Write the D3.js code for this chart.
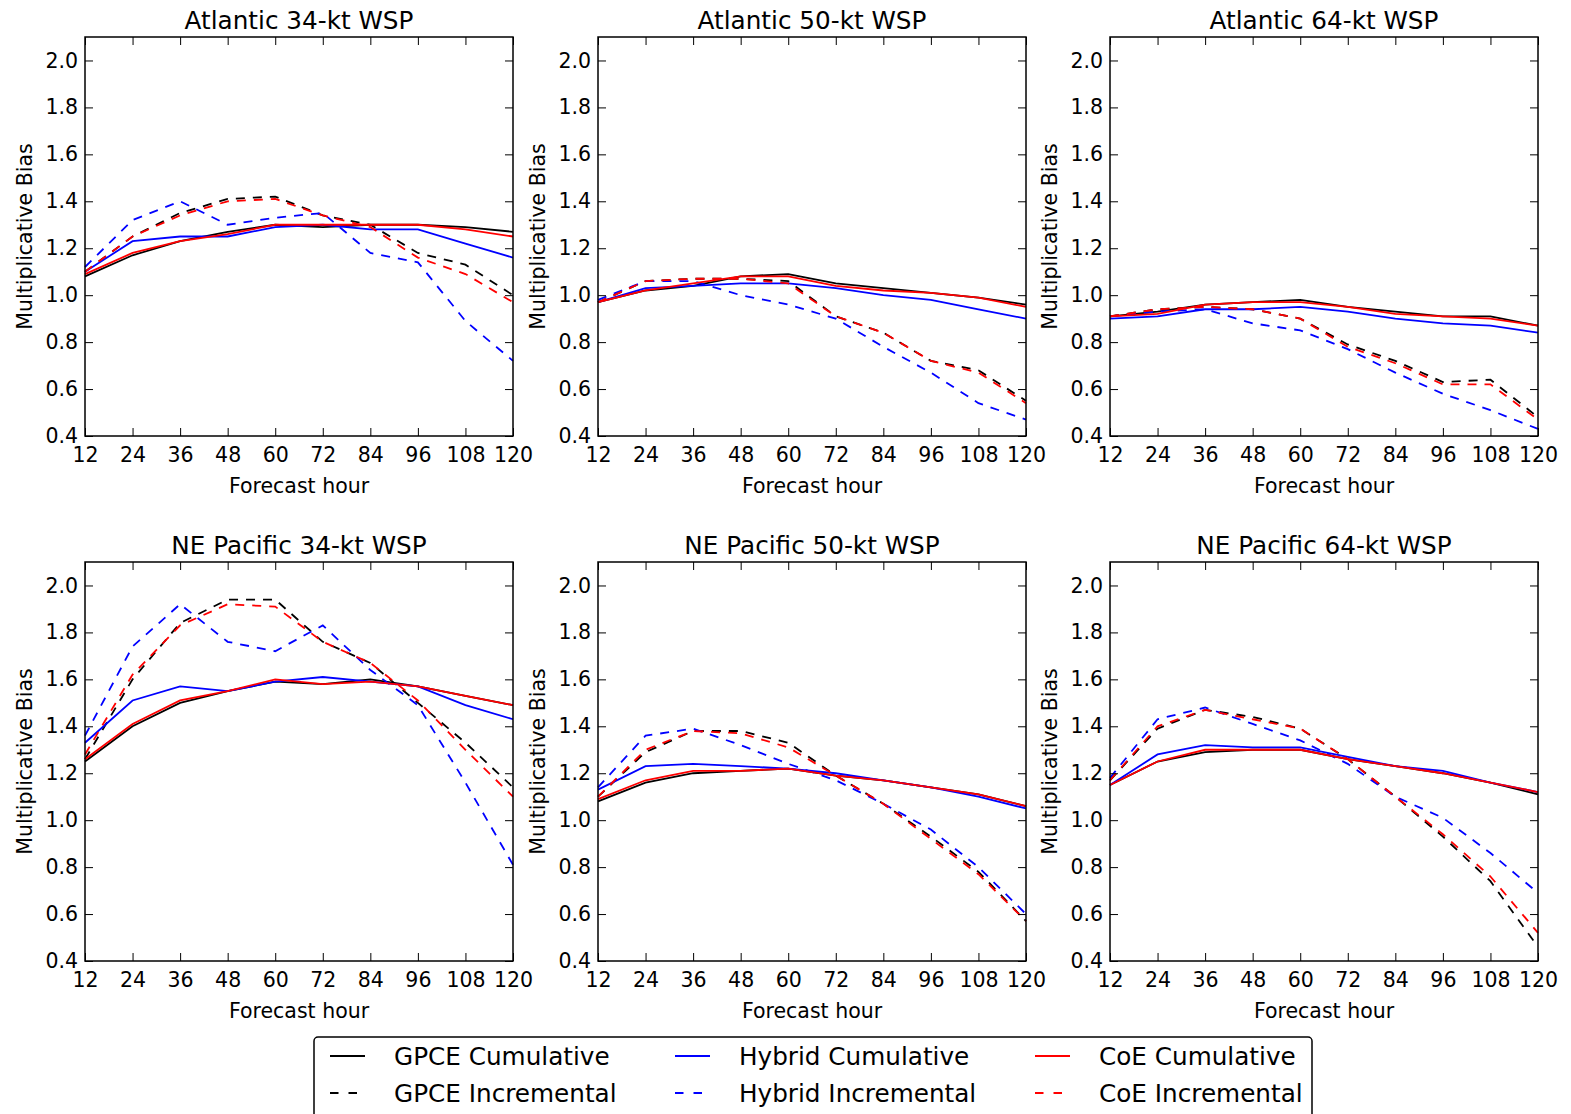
<!DOCTYPE html>
<html>
<head>
<meta charset="utf-8">
<script src="https://cdn.jsdelivr.net/npm/d3@7"></script>
<style>
  body { margin: 0; background: #fff; }
  svg text { font-family: "DejaVu Sans", sans-serif; fill: #000; }
</style>
</head>
<body>
<div id="chart"></div>
<script>
// *** data
var hours = [12, 24, 36, 48, 60, 72, 84, 96, 108, 120];
var yTicks = [0.4, 0.6, 0.8, 1.0, 1.2, 1.4, 1.6, 1.8, 2.0];
var seriesNames = ["GPCE Cumulative", "GPCE Incremental", "Hybrid Cumulative",
                   "Hybrid Incremental", "CoE Cumulative", "CoE Incremental"];
var titles = ["Atlantic 34-kt WSP", "Atlantic 50-kt WSP", "Atlantic 64-kt WSP",
              "NE Pacific 34-kt WSP", "NE Pacific 50-kt WSP", "NE Pacific 64-kt WSP"];

// each panel: rows follow seriesNames order
var atl34 = [
  [1.08, 1.17, 1.23, 1.27, 1.30, 1.29, 1.30, 1.30, 1.29, 1.27],
  [1.10, 1.25, 1.35, 1.41, 1.42, 1.34, 1.30, 1.18, 1.13, 1.00],
  [1.10, 1.23, 1.25, 1.25, 1.29, 1.30, 1.28, 1.28, 1.22, 1.16],
  [1.12, 1.32, 1.40, 1.30, 1.33, 1.35, 1.18, 1.14, 0.89, 0.72],
  [1.09, 1.18, 1.23, 1.26, 1.30, 1.30, 1.30, 1.30, 1.28, 1.25],
  [1.10, 1.25, 1.34, 1.40, 1.41, 1.34, 1.29, 1.16, 1.09, 0.97]
];
var atl50 = [
  [0.97, 1.02, 1.04, 1.08, 1.09, 1.05, 1.03, 1.01, 0.99, 0.96],
  [0.97, 1.06, 1.07, 1.07, 1.06, 0.91, 0.84, 0.72, 0.68, 0.55],
  [0.97, 1.03, 1.04, 1.05, 1.05, 1.03, 1.00, 0.98, 0.94, 0.90],
  [0.98, 1.06, 1.06, 1.00, 0.96, 0.90, 0.78, 0.67, 0.54, 0.47],
  [0.97, 1.02, 1.05, 1.08, 1.08, 1.04, 1.02, 1.01, 0.99, 0.95],
  [0.97, 1.06, 1.07, 1.07, 1.05, 0.91, 0.84, 0.72, 0.67, 0.54]
];
var atl64 = [
  [0.91, 0.93, 0.96, 0.97, 0.98, 0.95, 0.93, 0.91, 0.91, 0.87],
  [0.91, 0.94, 0.95, 0.94, 0.90, 0.79, 0.72, 0.63, 0.64, 0.48],
  [0.90, 0.91, 0.94, 0.94, 0.95, 0.93, 0.90, 0.88, 0.87, 0.84],
  [0.91, 0.93, 0.94, 0.88, 0.85, 0.77, 0.67, 0.58, 0.51, 0.43],
  [0.91, 0.92, 0.96, 0.97, 0.97, 0.95, 0.92, 0.91, 0.90, 0.87],
  [0.91, 0.94, 0.95, 0.94, 0.90, 0.78, 0.71, 0.62, 0.62, 0.47]
];
var pac34 = [
  [1.25, 1.40, 1.50, 1.55, 1.59, 1.58, 1.60, 1.57, 1.53, 1.49],
  [1.26, 1.60, 1.84, 1.94, 1.94, 1.76, 1.67, 1.50, 1.33, 1.14],
  [1.33, 1.51, 1.57, 1.55, 1.59, 1.61, 1.59, 1.57, 1.49, 1.43],
  [1.36, 1.74, 1.92, 1.76, 1.72, 1.83, 1.64, 1.49, 1.16, 0.81],
  [1.26, 1.41, 1.51, 1.55, 1.60, 1.58, 1.59, 1.57, 1.53, 1.49],
  [1.28, 1.62, 1.83, 1.92, 1.91, 1.76, 1.67, 1.51, 1.30, 1.10]
];
var pac50 = [
  [1.08, 1.16, 1.20, 1.21, 1.22, 1.19, 1.17, 1.14, 1.11, 1.06],
  [1.10, 1.29, 1.38, 1.38, 1.33, 1.19, 1.07, 0.93, 0.78, 0.57],
  [1.13, 1.23, 1.24, 1.23, 1.22, 1.20, 1.17, 1.14, 1.10, 1.05],
  [1.14, 1.36, 1.39, 1.32, 1.24, 1.17, 1.07, 0.96, 0.80, 0.60],
  [1.09, 1.17, 1.21, 1.21, 1.22, 1.19, 1.17, 1.14, 1.11, 1.06],
  [1.10, 1.30, 1.38, 1.37, 1.31, 1.19, 1.07, 0.92, 0.77, 0.57]
];
var pac64 = [
  [1.15, 1.25, 1.29, 1.30, 1.30, 1.26, 1.23, 1.20, 1.16, 1.11],
  [1.17, 1.39, 1.47, 1.44, 1.39, 1.26, 1.10, 0.93, 0.74, 0.46],
  [1.15, 1.28, 1.32, 1.31, 1.31, 1.27, 1.23, 1.21, 1.16, 1.12],
  [1.18, 1.43, 1.48, 1.41, 1.34, 1.24, 1.10, 1.01, 0.86, 0.69],
  [1.15, 1.25, 1.30, 1.30, 1.30, 1.26, 1.23, 1.20, 1.16, 1.12],
  [1.17, 1.40, 1.47, 1.43, 1.39, 1.26, 1.10, 0.94, 0.76, 0.52]
];
var panels = [atl34, atl50, atl64, pac34, pac50, pac64];

var colors = ["#000000", "#000000", "#0000ff", "#0000ff", "#ff0000", "#ff0000"];
var dashed = [false, true, false, true, false, true];

// *** layout
var W = 1571, H = 1114;
var plotW = 428, plotH = 399;
var lefts = [85, 598, 1110], tops = [37, 562];

var svg = d3.select("#chart").append("svg")
    .attr("width", W)
    .attr("height", H);

var x = d3.scaleLinear().domain([12, 120]).range([0, plotW]);
var y = d3.scaleLinear().domain([0.4, 2.1]).range([plotH, 0]);

var line = d3.line()
    .x(function(d, i) { return x(hours[i]); })
    .y(function(d) { return y(d); });

panels.forEach(function(panel, p) {
    var g = svg.append("g")
        .attr("transform", "translate(" + lefts[p % 3] + "," + tops[Math.floor(p / 3)] + ")");

    // data lines, same order as the legend columns
    panel.forEach(function(vals, s) {
        g.append("path")
            .datum(vals)
            .attr("d", line)
            .attr("fill", "none")
            .attr("stroke", colors[s])
            .attr("stroke-width", 1.8)
            .attr("stroke-dasharray", dashed[s] ? "9,8" : null);
    });

    // ticks point inward on all four sides
    g.append("g")
        .attr("transform", "translate(0," + plotH + ")")
        .call(d3.axisBottom(x).tickValues(hours).tickSize(-8).tickPadding(11));
    g.append("g")
        .call(d3.axisTop(x).tickValues(hours).tickSize(-8).tickFormat(""));
    g.append("g")
        .call(d3.axisLeft(y).tickValues(yTicks).tickSize(-8).tickPadding(7).tickFormat(d3.format(".1f")));
    g.append("g")
        .attr("transform", "translate(" + plotW + ",0)")
        .call(d3.axisRight(y).tickValues(yTicks).tickSize(-8).tickFormat(""));

    g.selectAll(".domain").remove();
    g.selectAll(".tick line").attr("stroke", "#000").attr("stroke-width", 1);
    g.selectAll(".tick text").style("font-size", "20.5px").attr("fill", "#000");

    g.append("rect")
        .attr("width", plotW)
        .attr("height", plotH)
        .attr("fill", "none")
        .attr("stroke", "#000")
        .attr("stroke-width", 1.5);

    g.append("text")
        .attr("x", plotW / 2)
        .attr("y", -8)
        .attr("text-anchor", "middle")
        .style("font-size", "24.7px")
        .text(titles[p]);

    g.append("text")
        .attr("x", plotW / 2)
        .attr("y", plotH + 57)
        .attr("text-anchor", "middle")
        .style("font-size", "20.5px")
        .text("Forecast hour");

    g.append("text")
        .attr("transform", "rotate(-90)")
        .attr("x", -plotH / 2)
        .attr("y", -53)
        .attr("text-anchor", "middle")
        .style("font-size", "20.5px")
        .text("Multiplicative Bias");
});

// *** legend, 3 columns filled top to bottom
var legend = svg.append("g");
legend.append("rect")
    .attr("x", 314)
    .attr("y", 1037)
    .attr("width", 998)
    .attr("height", 110)
    .attr("rx", 4)
    .attr("fill", "#fff")
    .attr("stroke", "#000")
    .attr("stroke-width", 1.5);

var colX = [330, 675, 1035];
var rowY = [1056, 1093];
seriesNames.forEach(function(name, s) {
    var cx = colX[Math.floor(s / 2)], cy = rowY[s % 2];
    legend.append("line")
        .attr("x1", cx).attr("x2", cx + 35)
        .attr("y1", cy).attr("y2", cy)
        .attr("stroke", colors[s])
        .attr("stroke-width", 1.8)
        .attr("stroke-dasharray", dashed[s] ? "8.5,10" : null);
    legend.append("text")
        .attr("x", cx + 64)
        .attr("y", cy)
        .attr("dy", "0.36em")
        .style("font-size", "24.7px")
        .text(name);
});
</script>
</body>
</html>
